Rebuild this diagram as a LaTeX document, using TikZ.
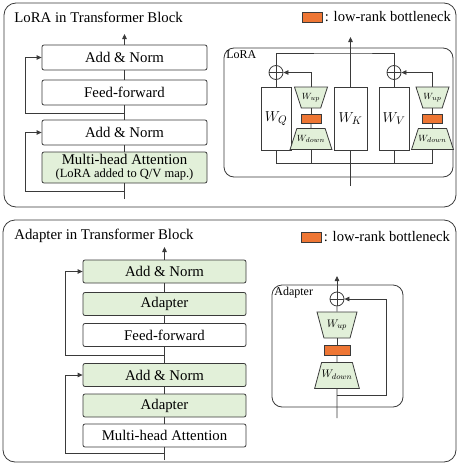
\documentclass[tikz,border=0pt]{standalone}
\usepackage{fontspec}
\setmainfont{Liberation Serif}
\usetikzlibrary{arrows.meta,shapes.geometric}
\definecolor{verde}{HTML}{E2F0D9}
\definecolor{arancio}{HTML}{EE7634}
\definecolor{bordo}{HTML}{3A3A3A}
\begin{document}
\begin{tikzpicture}[x=1pt, y=-1pt, line width=0.8pt, font=\fontsize{14.8}{16}\selectfont,
    blk/.style = {draw=bordo, rounded corners=2pt, minimum width=165pt, minimum height=25pt, inner sep=0pt},
    gr/.style = {blk, fill=verde},
    wm/.style = {draw=bordo, minimum width=30pt, minimum height=63pt, inner sep=0pt, font=\fontsize{15}{15}\selectfont},
    up/.style = {draw=bordo, fill=verde, trapezium, trapezium angle=72, trapezium stretches body, shape border rotate=180,
        text height=6pt, text depth=2pt, inner xsep=0pt, inner ysep=6.5pt, minimum width=33pt, font=\fontsize{9.5}{9}\selectfont},
    down/.style = {up, shape border rotate=0},
    bigup/.style = {up, trapezium angle=75, inner ysep=9pt, minimum width=40pt, font=\fontsize{11}{11}\selectfont},
    bigdown/.style = {bigup, shape border rotate=0},
    rank/.style = {draw=bordo, fill=arancio, minimum width=20pt, minimum height=9pt, inner sep=0pt},
    sum/.style = {draw=bordo, circle, fill=white, minimum size=14pt, inner sep=0pt, path picture={\draw[bordo, line width=0.6pt] (path picture bounding box.north) -- (path picture bounding box.south) (path picture bounding box.west) -- (path picture bounding box.east);}},
    freccia/.style = {draw=bordo, -{Triangle[length=5pt,width=4.5pt]}},
    filo/.style = {draw=bordo},
    pannello/.style = {draw=bordo, rounded corners=12pt},
    small/.style = {anchor=north west, inner sep=1pt, font=\fontsize{12}{13}\selectfont}]
    \useasboundingbox (0,0) rectangle (457,463);

    % pannello LoRA
    \draw[pannello] (4,3) rectangle (456,207);
    \node[anchor=west, inner sep=0pt] (t1) at (14,17) {LoRA in Transformer Block};
    \node[rank, minimum height=10pt] (leg1) at (312,17) {};
    \node[anchor=west, inner sep=2pt, font=\fontsize{14.6}{16}\selectfont] (legt1) at (leg1.east) {: low-rank bottleneck};

    \node[blk] (an1) at (124.5,57.5) {Add \& Norm};
    \node[blk] (ff) at (124.5,92.5) {Feed-forward};
    \node[blk] (an2) at (124.5,132.5) {Add \& Norm};
    \node[gr, minimum height=31pt, align=center] (mha) at (124.5,167.5) {Multi-head Attention\\[-3pt]{\fontsize{12.5}{13}\selectfont (LoRA added to Q/V map.)}};
    \coordinate (o1) at (124.5,34);
    \coordinate (i1) at (124.5,199);
    \coordinate (r1) at (124.5,113);
    \coordinate (k1) at (25,113);
    \coordinate (r2) at (124.5,191);
    \coordinate (k2) at (25,191);

    \draw[freccia] (an1) -- (o1);
    \draw[filo] (ff) -- (an1);
    \draw[filo] (an2) -- (ff);
    \draw[filo] (mha) -- (an2);
    \draw[filo] (i1) -- (mha);
    \draw[freccia] (r1) -- (k1) |- (an1.west);
    \draw[freccia] (r2) -- (k2) |- (an2.west);

    \draw[pannello, rounded corners=10pt] (224,48) rectangle (453,177);
    \node[small] (lbl1) at (225,49) {LoRA};
    \node[wm] (wq) at (276,118.5) {$W_Q$};
    \node[wm, minimum width=33pt] (wk) at (350.5,118.5) {$W_K$};
    \node[wm] (wv) at (394,118.5) {$W_V$};
    \node[up] (uq) at (311,97.5) {$W_{up}$};
    \node[rank] (bq) at (311,118.5) {};
    \node[down] (dq) at (311,139) {$W_{down}$};
    \node[up] (uv) at (432.5,97.5) {$W_{up}$};
    \node[rank] (bv) at (432.5,118.5) {};
    \node[down] (dv) at (432.5,139) {$W_{down}$};
    \node[sum] (sq) at (276,72.5) {};
    \node[sum] (sv) at (394,72.5) {};
    \coordinate (ctop) at (350.5,53);
    \coordinate (cb) at (350.5,163);
    \coordinate (lin) at (350.5,186);
    \coordinate (lout) at (350.5,37);

    \draw[filo] (wq) -- (sq);
    \draw[filo] (wv) -- (sv);
    \draw[filo] (dq) -- (bq);
    \draw[filo] (bq) -- (uq);
    \draw[filo] (dv) -- (bv);
    \draw[filo] (bv) -- (uv);
    \draw[freccia] (uq) |- (sq);
    \draw[freccia] (uv) |- (sv);
    \draw[filo] (sq) |- (ctop) -| (sv);
    \draw[filo] (lin) -- (wk);
    \draw[freccia] (wk) -- (lout);
    \draw[filo] (wq.south) -- (wq.south |- cb) -- (dv.south |- cb) -- (dv.south);
    \draw[filo] (dq.south) -- (dq.south |- cb);
    \draw[filo] (wv.south) -- (wv.south |- cb);

    % pannello Adapter
    \draw[pannello] (3,220) rectangle (456,462);
    \node[anchor=west, inner sep=0pt] (t2) at (14,235.5) {Adapter in Transformer Block};
    \node[rank, minimum height=10pt] (leg2) at (311,237) {};
    \node[anchor=west, inner sep=2pt, font=\fontsize{14.6}{16}\selectfont] (legt2) at (leg2.east) {: low-rank bottleneck};

    \node[gr, minimum width=163pt, minimum height=23pt] (a1) at (164.5,271.5) {Add \& Norm};
    \node[gr, minimum width=163pt, minimum height=23pt] (ad1) at (164.5,304) {Adapter};
    \node[blk, minimum width=163pt, minimum height=23pt] (ff2) at (164.5,335) {Feed-forward};
    \node[gr, minimum width=163pt, minimum height=23pt] (a2) at (164.5,375) {Add \& Norm};
    \node[gr, minimum width=163pt, minimum height=23pt] (ad2) at (164.5,405.5) {Adapter};
    \node[blk, minimum width=163pt, minimum height=23pt] (m2) at (164.5,435.5) {Multi-head Attention};
    \coordinate (o2) at (164.5,247);
    \coordinate (i2) at (164.5,460);
    \coordinate (r3) at (164.5,355);
    \coordinate (k3) at (65,355);
    \coordinate (r4) at (164.5,453);
    \coordinate (k4) at (65,453);

    \draw[freccia] (a1) -- (o2);
    \draw[filo] (ad1) -- (a1);
    \draw[filo] (ff2) -- (ad1);
    \draw[filo] (a2) -- (ff2);
    \draw[filo] (ad2) -- (a2);
    \draw[filo] (m2) -- (ad2);
    \draw[filo] (i2) -- (m2);
    \draw[freccia] (r3) -- (k3) |- (a1.west);
    \draw[freccia] (r4) -- (k4) |- (a2.west);

    \draw[pannello, rounded corners=10pt] (272,285) rectangle (403,407);
    \node[small] (lbl2) at (273,286) {Adapter};
    \node[sum] (sa) at (337,299) {};
    \node[bigup] (ua) at (337,325) {$W_{up}$};
    \node[rank, minimum width=26pt, minimum height=10pt] (ba) at (337,350) {};
    \node[bigdown] (da) at (337,375.5) {$W_{down}$};
    \coordinate (ain) at (337,418);
    \coordinate (aout) at (337,276);
    \coordinate (sk) at (337,395);
    \coordinate (sk2) at (386,395);

    \draw[filo] (ua) -- (sa);
    \draw[filo] (ba) -- (ua);
    \draw[filo] (da) -- (ba);
    \draw[filo] (ain) -- (da);
    \draw[freccia] (sa) -- (aout);
    \draw[freccia] (sk) -- (sk2) |- (sa);

\end{tikzpicture}
\end{document}
